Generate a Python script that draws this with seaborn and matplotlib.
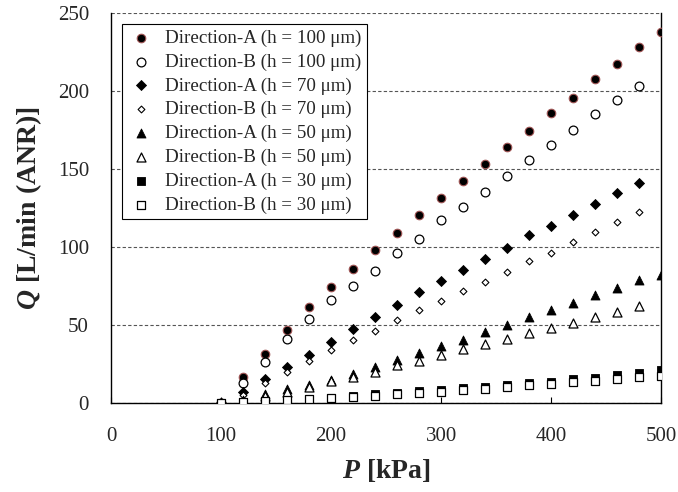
import numpy as np
import pandas as pd
import matplotlib
matplotlib.use("Agg")
import matplotlib.pyplot as plt
import seaborn as sns

P = [100, 120, 140, 160, 180, 200, 220, 240, 260, 280, 300,
     320, 340, 360, 380, 400, 420, 440, 460, 480, 500]
nan = np.nan
A100 = [0, 16.9, 31.4, 46.8, 61.7, 74.6, 85.7, 98.0, 109.0, 120.5, 131.6,
        142.5, 153.0, 164.0, 174.0, 186.0, 195.3, 207.5, 217.3, 228.4, 237.6]
B100 = [0, 13.0, 26.5, 40.8, 53.6, 66.0, 75.0, 84.8, 96.4, 105.1, 117.3,
        125.4, 135.4, 145.7, 155.8, 165.0, 175.0, 185.0, 194.2, 203.2, nan]
A70 = [0, 7.3, 15.2, 23.3, 30.8, 38.9, 47.2, 54.9, 62.8, 71.0, 78.4,
       85.3, 92.3, 99.2, 107.3, 113.5, 120.5, 127.6, 134.4, 140.8, nan]
B70 = [0, 5.0, 13.0, 20.0, 27.1, 34.0, 40.4, 46.4, 53.2, 59.6, 65.6,
       72.0, 77.8, 84.0, 90.8, 96.0, 103.0, 109.8, 116.2, 122.4, nan]
A50 = [0, 2.0, 5.6, 8.8, 11.5, 14.7, 18.6, 23.3, 27.6, 32.2, 36.5,
       40.4, 45.7, 50.0, 54.9, 59.6, 64.3, 69.2, 73.9, 78.8, 82.0]
B50 = [0, 1.5, 4.5, 7.3, 10.5, 14.1, 16.9, 20.0, 24.4, 26.9, 30.8,
       34.6, 37.8, 41.0, 44.7, 47.9, 51.5, 54.9, 58.5, 62.2, nan]
A30 = [0, 0.8, 1.3, 1.9, 2.6, 3.3, 4.2, 5.5, 6.5, 7.5, 8.5,
       9.5, 10.5, 11.5, 13.0, 13.7, 15.2, 16.2, 18.0, 19.4, 21.0]
B30 = [0, 0.8, 1.3, 1.7, 2.4, 3.0, 3.7, 4.7, 5.6, 6.2, 7.3,
       8.3, 9.0, 10.5, 11.5, 12.2, 13.2, 14.3, 15.4, 16.9, 17.5]

labels = ["Direction-A (h = 100 \u03bcm)", "Direction-B (h = 100 \u03bcm)",
          "Direction-A (h = 70 \u03bcm)", "Direction-B (h = 70 \u03bcm)",
          "Direction-A (h = 50 \u03bcm)", "Direction-B (h = 50 \u03bcm)",
          "Direction-A (h = 30 \u03bcm)", "Direction-B (h = 30 \u03bcm)"]
series = [A100, B100, A70, B70, A50, B50, A30, B30]

styles = [
    dict(marker="o", s=38, facecolor="black", edgecolor="#a05555", linewidth=0.8),
    dict(marker="o", s=40, facecolor="white", edgecolor="black", linewidth=0.9),
    dict(marker="D", s=26, facecolor="black", edgecolor="black", linewidth=0.6),
    dict(marker="D", s=12, facecolor="white", edgecolor="black", linewidth=0.8),
    dict(marker="^", s=42, facecolor="black", edgecolor="black", linewidth=0.6),
    dict(marker="^", s=42, facecolor="white", edgecolor="black", linewidth=0.9),
    dict(marker="s", s=40, facecolor="black", edgecolor="black", linewidth=0.6),
    dict(marker="s", s=40, facecolor="white", edgecolor="black", linewidth=0.9),
]

sns.set_style("white")
plt.rcParams["font.family"] = ["Liberation Serif", "DejaVu Serif"]
plt.rcParams["mathtext.fontset"] = "custom"
plt.rcParams["mathtext.rm"] = "Liberation Serif:bold"
plt.rcParams["mathtext.it"] = "Liberation Serif:bold:italic"
plt.rcParams["mathtext.bf"] = "Liberation Serif:bold"

fig = plt.figure(figsize=(6.78, 4.92), dpi=100)
ax = fig.add_axes([0.164, 0.181, 0.811, 0.793])

for lab, vals, st in zip(labels, series, styles):
    df = pd.DataFrame({"P": P, "Q": vals}).dropna()
    sns.scatterplot(data=df, x="P", y="Q", ax=ax, label=lab, zorder=3, **st)

ax.set_xlim(0, 500)
ax.set_ylim(0, 250)
ax.set_xticks([0, 100, 200, 300, 400, 500])
ax.set_yticks([0, 50, 100, 150, 200, 250])
ax.yaxis.grid(True, linestyle=(0, (3, 2)), color="#555555", linewidth=0.8)
ax.xaxis.grid(False)
ax.set_axisbelow(True)
for side in ["left", "bottom", "right"]:
    ax.spines[side].set_visible(True)
    ax.spines[side].set_color("black")
    ax.spines[side].set_linewidth(1.0)
ax.spines["top"].set_visible(False)

ax.tick_params(axis="x", direction="in", length=4, width=0.8, color="black",
               bottom=True, pad=17, labelsize=15)
ax.tick_params(axis="y", direction="in", length=0, left=True, pad=16, labelsize=15)

ax.set_xlabel(r"$\mathit{P}\ \mathrm{[kPa]}$", fontsize=20, labelpad=8)
ax.set_ylabel(r"$\mathit{Q}\ \mathrm{[L/min\ (ANR)]}$", fontsize=20, labelpad=10)

leg = ax.legend(loc="upper left", bbox_to_anchor=(0.02, 0.972), borderaxespad=0,
                frameon=True, fancybox=False, fontsize=13.7, labelspacing=0.34,
                handletextpad=0.55, handlelength=1.4, borderpad=0.3,
                edgecolor="black", framealpha=1)
leg.get_frame().set_linewidth(0.8)

fig.savefig("out.png", dpi=100)
